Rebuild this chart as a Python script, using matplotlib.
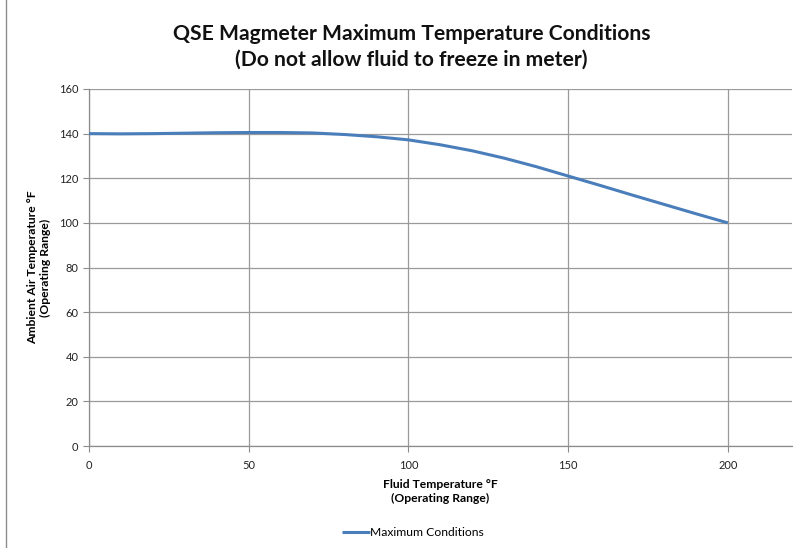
import matplotlib
matplotlib.use("Agg")
import matplotlib.pyplot as plt
from matplotlib.patches import Rectangle

fluid_temp = [0, 10, 20, 30, 40, 50, 60, 70, 80, 90, 100, 110, 120, 130, 140, 150, 160, 170, 180, 190, 200]
max_ambient = [140, 139.9, 140, 140.2, 140.4, 140.5, 140.5, 140.3, 139.6, 138.6, 137.2, 135.0, 132.3, 129.0, 125.2, 121.0, 116.8, 112.5, 108.3, 104.1, 100]
x_ticks = [0, 50, 100, 150, 200]
y_ticks = [0, 20, 40, 60, 80, 100, 120, 140, 160]

plt.rcParams['font.family'] = ['Lato', 'DejaVu Sans']

fig = plt.figure(figsize=(8.12, 5.48), dpi=100)
ax = fig.add_axes([0.1096, 0.1861, 0.8654, 0.6515])

ax.plot(fluid_temp, max_ambient, color='#4A7EBB', linewidth=2.2, label='Maximum Conditions',
        solid_capstyle='butt', zorder=3)

ax.set_xlim(0, 220)
ax.set_ylim(0, 160)
ax.set_xticks(x_ticks)
ax.set_yticks(y_ticks)
ax.grid(True, color='#9a9a9a', linewidth=0.9)
ax.set_axisbelow(True)
for s in ['top', 'right']:
    ax.spines[s].set_visible(False)
for s in ['left', 'bottom']:
    ax.spines[s].set_color('#8c8c8c')
    ax.spines[s].set_linewidth(0.9)
ax.tick_params(axis='both', direction='out', length=4, color='#8c8c8c', labelsize=8, labelcolor='#222222')
ax.tick_params(axis='x', pad=6)

ax.set_xlabel('Fluid Temperature °F\n(Operating Range)', fontsize=8.7, fontweight='bold', labelpad=6, linespacing=1.25)
ax.set_ylabel('Ambient Air Temperature °F\n(Operating Range)', fontsize=8.7, fontweight='bold', labelpad=6, linespacing=1.2)

fig.text(0.507, 0.915, 'QSE Magmeter Maximum Temperature Conditions\n(Do not allow fluid to freeze in meter)',
         ha='center', va='center', fontsize=15.2, fontweight='bold', linespacing=1.35, color='#111111')

leg = fig.legend(loc='center', bbox_to_anchor=(0.508, 0.028), frameon=False, fontsize=8.7,
                 handlelength=2.3, handletextpad=0.0)

fig.patches.append(Rectangle((0.008, -0.01), 1.1, 1.2, transform=fig.transFigure,
                             fill=False, edgecolor='#8c8c8c', linewidth=1.0))

fig.savefig('out.png', dpi=100)
